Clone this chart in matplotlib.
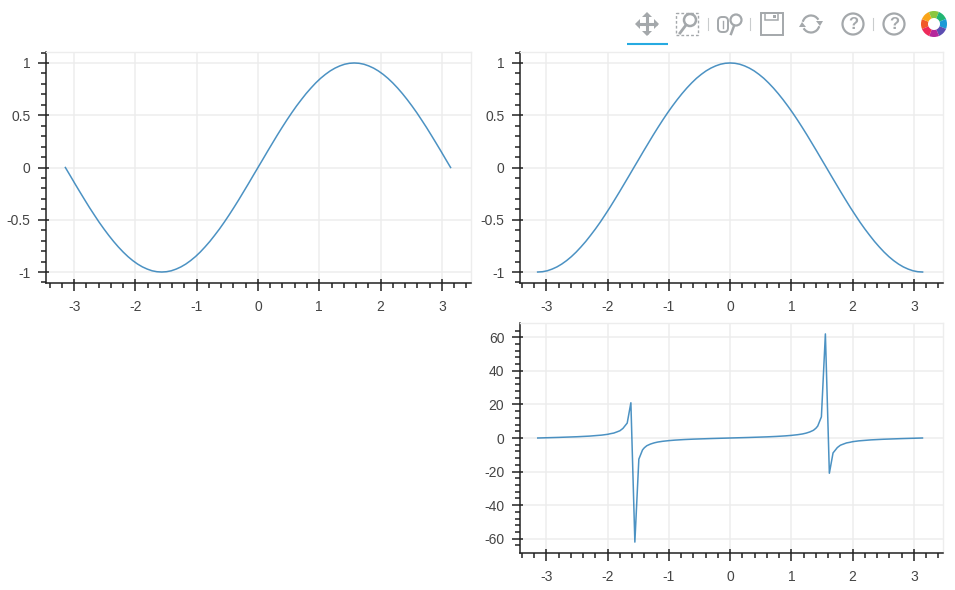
import matplotlib
matplotlib.use("Agg")
import matplotlib.pyplot as plt
from matplotlib.patches import Circle, Rectangle, FancyBboxPatch, Wedge, Arc, Polygon

plt.rcParams['font.family'] = ['Liberation Sans', 'DejaVu Sans']
plt.rcParams['axes.unicode_minus'] = False

W = 955
H = 590

# values
x_smooth = [-3.142, -3.063, -2.985, -2.906, -2.827, -2.749, -2.670, -2.592, -2.513, -2.435,
            -2.356, -2.278, -2.199, -2.120, -2.042, -1.963, -1.885, -1.806, -1.728, -1.649,
            -1.571, -1.492, -1.414, -1.335, -1.257, -1.178, -1.100, -1.021, -0.942, -0.864,
            -0.785, -0.707, -0.628, -0.550, -0.471, -0.393, -0.314, -0.236, -0.157, -0.079,
            0.0, 0.079, 0.157, 0.236, 0.314, 0.393, 0.471, 0.550, 0.628, 0.707,
            0.785, 0.864, 0.942, 1.021, 1.100, 1.178, 1.257, 1.335, 1.414, 1.492,
            1.571, 1.649, 1.728, 1.806, 1.885, 1.963, 2.042, 2.120, 2.199, 2.278,
            2.356, 2.435, 2.513, 2.592, 2.670, 2.749, 2.827, 2.906, 2.985, 3.063, 3.142]
y_sin = [0.0, -0.078, -0.156, -0.233, -0.309, -0.383, -0.454, -0.523, -0.588, -0.649,
         -0.707, -0.760, -0.809, -0.853, -0.891, -0.924, -0.951, -0.972, -0.988, -0.997,
         -1.0, -0.997, -0.988, -0.972, -0.951, -0.924, -0.891, -0.853, -0.809, -0.760,
         -0.707, -0.649, -0.588, -0.523, -0.454, -0.383, -0.309, -0.233, -0.156, -0.078,
         0.0, 0.078, 0.156, 0.233, 0.309, 0.383, 0.454, 0.523, 0.588, 0.649,
         0.707, 0.760, 0.809, 0.853, 0.891, 0.924, 0.951, 0.972, 0.988, 0.997,
         1.0, 0.997, 0.988, 0.972, 0.951, 0.924, 0.891, 0.853, 0.809, 0.760,
         0.707, 0.649, 0.588, 0.523, 0.454, 0.383, 0.309, 0.233, 0.156, 0.078, 0.0]
y_cos = [-1.0, -0.997, -0.988, -0.972, -0.951, -0.924, -0.891, -0.853, -0.809, -0.760,
         -0.707, -0.649, -0.588, -0.523, -0.454, -0.383, -0.309, -0.233, -0.156, -0.078,
         0.0, 0.078, 0.156, 0.233, 0.309, 0.383, 0.454, 0.523, 0.588, 0.649,
         0.707, 0.760, 0.809, 0.853, 0.891, 0.924, 0.951, 0.972, 0.988, 0.997,
         1.0, 0.997, 0.988, 0.972, 0.951, 0.924, 0.891, 0.853, 0.809, 0.760,
         0.707, 0.649, 0.588, 0.523, 0.454, 0.383, 0.309, 0.233, 0.156, 0.078,
         0.0, -0.078, -0.156, -0.233, -0.309, -0.383, -0.454, -0.523, -0.588, -0.649,
         -0.707, -0.760, -0.809, -0.853, -0.891, -0.924, -0.951, -0.972, -0.988, -0.997, -1.0]

x_tan = [-3.14, -2.8, -2.5, -2.3, -2.1, -2.0, -1.95, -1.9, -1.85, -1.8, -1.75, -1.68, -1.62, -1.555,
         -1.49, -1.43, -1.4, -1.36, -1.3, -1.24, -1.18, -1.1, -1.0, -0.9, -0.75, -0.6, -0.3, 0.0,
         0.3, 0.6, 0.75, 0.9, 1.0, 1.1, 1.18, 1.24, 1.3, 1.36, 1.4, 1.43, 1.49, 1.555, 1.62,
         1.68, 1.75, 1.8, 1.85, 1.9, 1.95, 2.0, 2.1, 2.3, 2.5, 2.8, 3.14]
y_tan = [0.0, 0.36, 0.75, 1.12, 1.71, 2.19, 2.6, 2.93, 3.6, 4.3, 5.7, 8.9, 21.0, -62.0,
         -12.6, -7.1, -5.8, -4.6, -3.6, -2.9, -2.4, -1.96, -1.56, -1.26, -0.93, -0.68, -0.31, 0.0,
         0.31, 0.68, 0.93, 1.26, 1.56, 1.96, 2.4, 2.9, 3.6, 4.6, 5.8, 7.1, 12.6, 62.0, -21.0,
         -8.9, -5.7, -4.3, -3.6, -2.93, -2.6, -2.19, -1.71, -1.12, -0.75, -0.36, 0.0]

x_ticks = [-3, -2, -1, 0, 1, 2, 3]
x_minor = [-3.4, -3.2, -2.8, -2.6, -2.4, -2.2, -1.8, -1.6, -1.4, -1.2, -0.8, -0.6, -0.4, -0.2,
           0.2, 0.4, 0.6, 0.8, 1.2, 1.4, 1.6, 1.8, 2.2, 2.4, 2.6, 2.8, 3.2, 3.4]
trig_ticks = [-1, -0.5, 0, 0.5, 1]
trig_labels = ['-1', '-0.5', '0', '0.5', '1']
trig_minor = [-1.1, -0.9, -0.8, -0.7, -0.6, -0.4, -0.3, -0.2, -0.1,
              0.1, 0.2, 0.3, 0.4, 0.6, 0.7, 0.8, 0.9, 1.1]
tan_ticks = [-60, -40, -20, 0, 20, 40, 60]
tan_minor = [-64, -56, -52, -48, -44, -36, -32, -28, -24, -16, -12, -8, -4,
             4, 8, 12, 16, 24, 28, 32, 36, 44, 48, 52, 56, 64]

LINE = '#1f77b4'
GRID = '#ededed'
TEXT = '#444444'
ICON = '#a4a8ab'
AXIS = '#222222'

fig = plt.figure(figsize=(W / 100, H / 100), dpi=100)


def make_panel(box, xlim, ylim, xs, ys, yt, yl, ym):
    left, top, right, bottom = box
    ax = fig.add_axes([left / W, 1 - bottom / H, (right - left) / W, (bottom - top) / H])
    ax.plot(xs, ys, color=LINE, lw=1.1, alpha=0.8, zorder=3)
    ax.set_xlim(xlim)
    ax.set_ylim(ylim)
    ax.set_xticks(x_ticks)
    ax.set_xticklabels([str(v) for v in x_ticks])
    ax.set_xticks(x_minor, minor=True)
    ax.set_yticks(yt)
    ax.set_yticklabels(yl)
    ax.set_yticks(ym, minor=True)
    ax.grid(True, which='major', color=GRID, lw=1.1, zorder=0)
    ax.set_axisbelow(True)
    for s in ['top', 'right']:
        ax.spines[s].set_color(GRID)
        ax.spines[s].set_linewidth(1.0)
    for s in ['left', 'bottom']:
        ax.spines[s].set_color(AXIS)
        ax.spines[s].set_linewidth(1.1)
    ax.tick_params(which='major', direction='out', length=5.8, width=1.1, color=AXIS,
                   labelcolor=TEXT, labelsize=10)
    ax.tick_params(axis='x', which='major', pad=6.5)
    ax.tick_params(axis='y', which='major', pad=5.5)
    ax.tick_params(which='minor', direction='out', length=3.6, width=1.1, color=AXIS)
    # major ticks also poke a little into the plot
    in_x = 4 / (bottom - top)
    in_y = 3 / (right - left)
    for t in x_ticks:
        ax.plot([t, t], [0, in_x], transform=ax.get_xaxis_transform(), color=AXIS, lw=1.1,
                solid_capstyle='butt', zorder=4)
    for t in yt:
        ax.plot([0, in_y], [t, t], transform=ax.get_yaxis_transform(), color=AXIS, lw=1.1,
                solid_capstyle='butt', zorder=4)
    return ax


trig_lim = (-1.105, 1.105)
make_panel((46, 52, 471, 283), (-3.458, 3.475), trig_lim, x_smooth, y_sin,
           trig_ticks, trig_labels, trig_minor)
make_panel((520, 52, 943, 283), (-3.43, 3.475), trig_lim, x_smooth, y_cos,
           trig_ticks, trig_labels, trig_minor)
make_panel((520, 323, 943, 553), (-3.43, 3.475), (-68.5, 68.5), x_tan, y_tan,
           tan_ticks, [str(v) for v in tan_ticks], tan_minor)

# toolbar, drawn in pixel coordinates on top of everything
tb = fig.add_axes([0, 0, 1, 1], facecolor='none')
tb.set_xlim(0, W)
tb.set_ylim(H, 0)
tb.axis('off')

tb.plot([627, 668], [44, 44], color='#26aae1', lw=1.5, solid_capstyle='butt')

# pan
tb.plot([637, 657], [24, 24], color=ICON, lw=2.2, solid_capstyle='butt')
tb.plot([647, 647], [14, 34], color=ICON, lw=2.2, solid_capstyle='butt')
for pts in [[(635, 24), (640, 19), (640, 29)], [(659, 24), (654, 19), (654, 29)],
            [(647, 12), (642, 17), (652, 17)], [(647, 36), (642, 31), (652, 31)]]:
    tb.add_patch(Polygon(pts, closed=True, color=ICON, lw=0))

# box zoom
tb.add_patch(Rectangle((676, 13), 22, 22, fill=False, ec=ICON, lw=1, ls=(0, (2, 1.5))))
tb.add_patch(Circle((690, 20), 6, fc='white', ec=ICON, lw=1.8))
tb.plot([686, 680], [25, 33], color=ICON, lw=2)

# separators
for sx in [708, 750, 873]:
    tb.plot([sx, sx], [18, 30], color='#c9cccd', lw=0.8)

# wheel zoom
tb.add_patch(FancyBboxPatch((720, 19), 6, 11, boxstyle='round,pad=2,rounding_size=4',
                            fc='white', ec=ICON, lw=1.4))
tb.plot([723, 723], [21, 28], color=ICON, lw=1)
tb.add_patch(Circle((736, 20), 5.5, fc='white', ec=ICON, lw=1.6))
tb.plot([734, 731], [26, 34], color=ICON, lw=1.8)

# save
tb.add_patch(Rectangle((760.5, 13), 22, 22, fill=False, ec=ICON, lw=1.4))
tb.add_patch(Rectangle((765, 13), 13, 7, fill=False, ec=ICON, lw=1.1))
tb.add_patch(Rectangle((773, 15), 2.5, 3, color=ICON, lw=0))

# reset
tb.add_patch(Arc((811, 24), 17, 17, theta1=195, theta2=330, color=ICON, lw=1.6))
tb.add_patch(Arc((811, 24), 17, 17, theta1=15, theta2=150, color=ICON, lw=1.6))
tb.add_patch(Polygon([(816, 21), (823, 21), (820, 26)], closed=True, color=ICON, lw=0))
tb.add_patch(Polygon([(799, 27), (806, 27), (802, 22)], closed=True, color=ICON, lw=0))

# help
for cx in [853, 894]:
    tb.add_patch(Circle((cx, 24), 10.5, fill=False, ec=ICON, lw=1.6))
    tb.text(cx, 24.5, '?', ha='center', va='center', color=ICON, fontsize=12, fontweight='bold')

# logo, wedges run clockwise on screen because the y axis is flipped
logo_colors = ['#f15a29', '#f9a51a', '#8cc63f', '#21b573', '#1b9ad6', '#5c4db1', '#b5279b', '#ee2a5b']
for i, c in enumerate(logo_colors):
    tb.add_patch(Wedge((934, 24), 13, i * 45 + 157, i * 45 + 202, width=7, color=c, lw=0))

fig.savefig('out.png', dpi=100, facecolor='white')
